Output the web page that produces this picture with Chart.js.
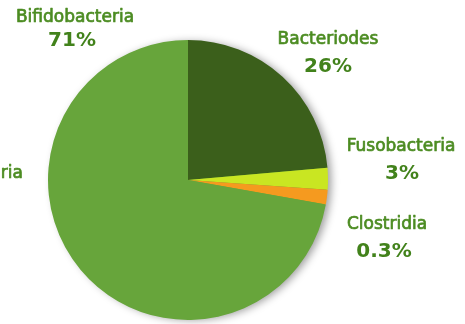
<!DOCTYPE html>
<html><head><meta charset="utf-8">
<script src="https://cdn.jsdelivr.net/npm/chart.js@4"></script>
<style>html,body{margin:0;padding:0;background:#fff;}canvas{display:block;}</style>
</head><body>
<canvas id="c" width="465" height="324"></canvas>
<script>
const categories = ["Bacteriodes", "Fusobacteria", "Clostridia", "Bifidobacteria"];
const sliceValues = [23.6, 2.5, 1.7, 72.2];
const percentLabels = ["26%", "3%", "0.3%", "71%"];
const sliceColors = ["#3b5f1b", "#c9e622", "#f59a1f", "#67a53b"];

const labelPos = [
  {x: 328, nx: 328, y1: 44, y2: 72},
  {x: 402, nx: 401, y1: 151, y2: 179},
  {x: 384, nx: 387, y1: 229, y2: 257},
  {x: 72, nx: 75, y1: 22, y2: 46}
];

const shadowPlugin = {
  id: 'shadow',
  beforeDatasetsDraw(chart) {
    const arc = chart.getDatasetMeta(0).data[0];
    if (!arc) return;
    const ctx = chart.ctx;
    ctx.save();
    ctx.shadowColor = 'rgba(0,0,0,0.4)';
    ctx.shadowBlur = 8;
    ctx.shadowOffsetX = 4;
    ctx.shadowOffsetY = 1;
    ctx.fillStyle = '#67a53b';
    ctx.beginPath();
    ctx.arc(arc.x, arc.y, arc.outerRadius - 1, 0, Math.PI * 2);
    ctx.fill();
    ctx.restore();
  }
};

const labelPlugin = {
  id: 'sliceLabels',
  afterDraw(chart) {
    const ctx = chart.ctx;
    ctx.save();
    ctx.textAlign = 'center';
    ctx.textBaseline = 'alphabetic';
    ctx.lineJoin = 'round';
    categories.forEach((name, i) => {
      const p = labelPos[i];
      ctx.fillStyle = '#4c8c22';
      ctx.strokeStyle = '#4c8c22';
      ctx.lineWidth = 0.7;
      ctx.font = '17px "DejaVu Sans"';
      ctx.fillText(name, p.nx, p.y1);
      ctx.strokeText(name, p.nx, p.y1);
      ctx.fillStyle = '#42821b';
      ctx.font = 'bold 20px "DejaVu Sans"';
      ctx.fillText(percentLabels[i], p.x, p.y2);
    });
    ctx.fillStyle = '#4c8c22';
    ctx.strokeStyle = '#4c8c22';
    ctx.lineWidth = 0.7;
    ctx.font = '17px "DejaVu Sans"';
    ctx.textAlign = 'right';
    ctx.fillText('ria', 23, 178);
    ctx.strokeText('ria', 23, 178);
    ctx.restore();
  }
};

new Chart(document.getElementById('c'), {
  type: 'pie',
  data: {
    labels: categories,
    datasets: [{
      data: sliceValues,
      backgroundColor: sliceColors,
      borderWidth: 0
    }]
  },
  options: {
    responsive: false,
    animation: false,
    layout: {padding: {left: 48, top: 40, right: 137, bottom: 4}},
    plugins: {legend: {display: false}, tooltip: {enabled: false}}
  },
  plugins: [shadowPlugin, labelPlugin]
});
</script>
</body></html>
